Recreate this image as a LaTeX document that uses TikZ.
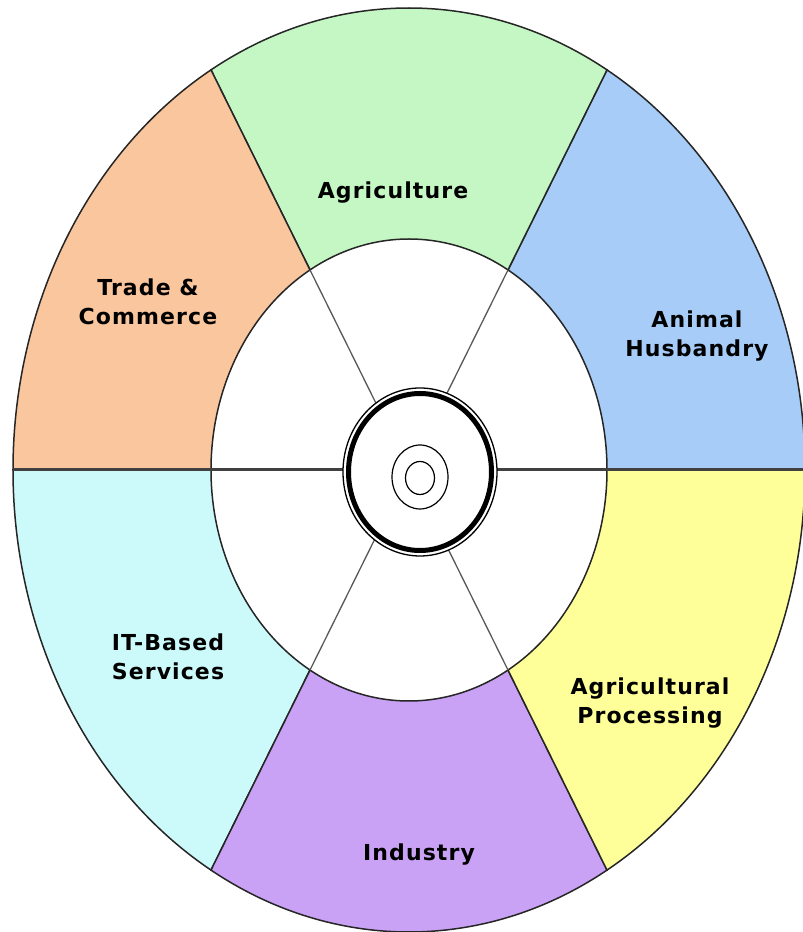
\documentclass[tikz,border=0pt]{standalone}
\usepackage{fontspec}
\setmainfont{DejaVu Sans}[LetterSpace=5]
\usetikzlibrary{calc}

\definecolor{agrigreen}{HTML}{C4F7C4}
\definecolor{husbblue}{HTML}{A6CCF7}
\definecolor{tradeorange}{HTML}{FAC69E}
\definecolor{itcyan}{HTML}{CCFAFA}
\definecolor{induspurple}{HTML}{C9A2F5}
\definecolor{procyellow}{HTML}{FFFF99}

\tikzset{
	rim/.style={draw=black!85, line width=1.5pt},
	spoke/.style={draw=black!75, line width=1.5pt},
	label/.style={align=center, font=\fontsize{22}{28.5}\selectfont\bfseries}
}

\newcommand\wedgeband[3]{%
	\filldraw[rim, fill=#3] ([shift={(#1:396 and 462)}]C) arc[start angle=#1, end angle=#2, x radius=396, y radius=462]
		-- ([shift={(#2:198 and 231)}]C) arc[start angle=#2, end angle=#1, x radius=198, y radius=231] -- cycle;
}

\begin{document}
\begin{tikzpicture}[x=1pt, y=1pt]
					\useasboundingbox[fill=white] (0,0) rectangle (803,932);
					\coordinate (C) at (409,462);
					\coordinate (Hub) at (420,460);
					\wedgeband{0}{60}{husbblue}
					\wedgeband{60}{120}{agrigreen}
					\wedgeband{120}{180}{tradeorange}
					\wedgeband{180}{240}{itcyan}
					\wedgeband{240}{300}{induspurple}
					\wedgeband{300}{360}{procyellow}
					\foreach \a in {60,120,240,300}
						\draw[spoke, line width=1.3pt, draw=black!65] (C) -- ([shift={(\a:198 and 231)}]C);
					\draw[spoke, line width=3pt] ([shift={(180:396 and 462)}]C) -- ([shift={(0:396 and 462)}]C);
					\filldraw[draw=black, fill=white, line width=1.3pt] (Hub) ellipse[x radius=77, y radius=84];
					\draw[line width=5pt] (Hub) ellipse[x radius=71.5, y radius=78.5];
					\draw[line width=1.2pt] (420,455) ellipse[x radius=28, y radius=32];
					\draw[line width=1.2pt] (420,454) ellipse[x radius=14.5, y radius=16.5];
					\node[label] (agri) at (393,739) {Agriculture};
					\node[label] (trade) at (148,630) {Trade \&\\Commerce};
					\node[label] (husb) at (697,596) {Animal\\Husbandry};
					\node[label] (itserv) at (168,275) {IT-Based\\Services};
					\node[label] (proc) at (650,229) {Agricultural\\Processing};
					\node[label] (indus) at (419,77) {Industry};
				\end{tikzpicture}
\end{document}
